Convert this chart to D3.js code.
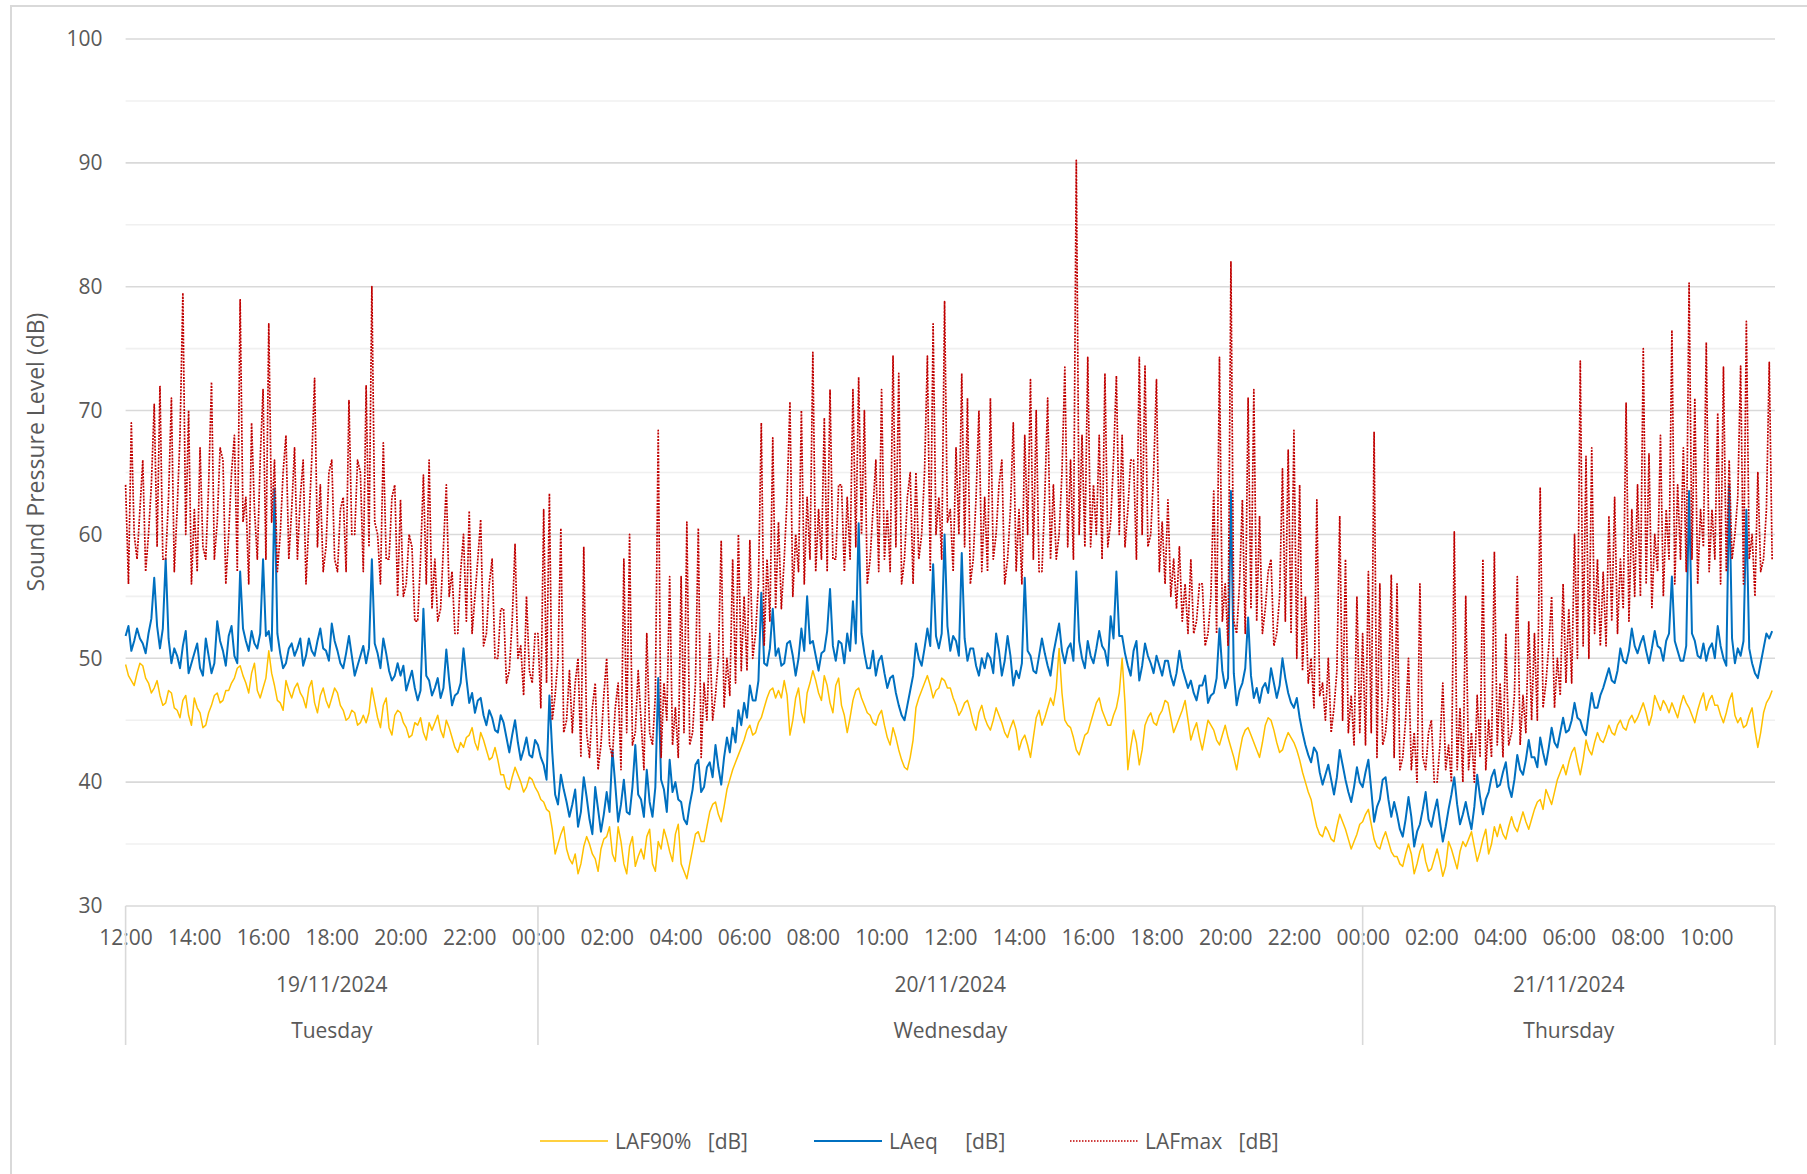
<!DOCTYPE html>
<html lang="en">
<head>
<meta charset="UTF-8">
<title>Sound Pressure Level</title>
<script src="https://d3js.org/d3.v7.min.js"></script>
<style>
    body { margin: 0; background: #fff; }
    svg text { font-family: "Open Sans", sans-serif; fill: #595959; }
</style>
</head>
<body>
<svg class="chart"></svg>
<script>

// 5-minute readings starting Tuesday 19/11/2024 12:00, one row per hour
const startTime = new Date(2024, 10, 19, 12, 0)
const stepMinutes = 5

const laf90 = [
    49.5, 48.6, 48.2, 47.8, 48.8, 49.6, 49.4, 48.4, 48.0, 47.2, 47.6, 48.2,
    47.0, 46.2, 46.4, 47.4, 47.2, 46.0, 45.8, 45.2, 46.6, 47.0, 45.4, 44.6,
    46.8, 46.0, 45.6, 44.4, 44.6, 45.6, 46.2, 47.0, 47.2, 46.4, 46.6, 47.4,
    47.4, 48.0, 48.4, 49.2, 49.4, 48.6, 48.0, 47.2, 48.8, 49.6, 47.4, 46.8,
    47.6, 48.4, 50.6, 48.8, 47.8, 46.6, 46.4, 45.8, 48.2, 47.4, 46.8, 47.6,
    48.0, 47.2, 46.8, 46.0, 47.6, 48.2, 46.4, 45.6, 47.0, 47.6, 46.6, 46.0,
    46.8, 47.6, 47.2, 46.2, 45.8, 45.0, 45.2, 45.8, 45.6, 44.6, 44.8, 45.4,
    44.8, 45.6, 47.6, 46.4, 45.2, 44.4, 46.2, 46.8, 44.4, 43.8, 45.4, 45.8,
    45.6, 44.8, 44.4, 43.6, 43.8, 44.8, 44.6, 45.2, 44.0, 43.4, 44.8, 44.2,
    44.8, 45.4, 44.2, 43.6, 45.0, 44.4, 43.6, 42.8, 42.4, 43.2, 42.8, 43.6,
    43.8, 44.4, 43.2, 42.6, 44.0, 43.4, 42.6, 41.8, 42.0, 42.8, 41.8, 40.6,
    40.6, 39.6, 39.4, 40.4, 41.2, 40.6, 40.0, 39.2, 39.6, 40.4, 40.2, 39.6,
    39.2, 38.6, 38.4, 37.8, 37.6, 36.2, 34.2, 35.0, 35.8, 36.4, 34.6, 33.8,
    33.4, 34.2, 32.6, 33.4, 34.8, 35.6, 35.0, 34.2, 33.8, 32.8, 34.6, 35.4,
    35.6, 36.4, 34.2, 33.6, 36.4, 35.2, 33.4, 32.6, 34.8, 35.6, 33.2, 34.0,
    34.6, 33.8, 35.6, 36.2, 33.4, 32.8, 35.2, 34.6, 36.2, 35.4, 34.4, 33.6,
    35.8, 36.6, 33.4, 32.8, 32.2, 33.4, 34.6, 35.8, 36.0, 35.2, 35.2, 36.4,
    37.6, 38.2, 38.4, 37.4, 36.8, 38.0, 39.4, 40.2, 41.0, 41.6, 42.2, 42.8,
    43.4, 44.2, 44.6, 43.8, 44.0, 44.8, 45.2, 46.0, 46.8, 47.4, 47.6, 46.8,
    47.4, 46.8, 48.2, 47.0, 43.8, 45.0, 46.8, 47.6, 45.6, 44.8, 47.2, 48.0,
    49.0, 48.2, 47.2, 46.6, 48.6, 47.8, 46.4, 45.6, 47.8, 48.4, 46.2, 45.4,
    44.0, 45.2, 46.6, 47.4, 47.6, 46.8, 46.2, 45.6, 45.4, 44.8, 44.6, 45.4,
    45.8, 44.6, 43.6, 43.0, 44.4, 43.6, 42.6, 41.8, 41.2, 41.0, 42.0, 43.4,
    46.0, 46.8, 47.4, 48.0, 48.6, 47.8, 46.8, 47.4, 47.6, 48.4, 48.2, 47.6,
    47.6, 46.8, 46.2, 45.4, 45.8, 46.4, 46.6, 45.8, 44.8, 44.2, 45.6, 46.2,
    45.2, 44.6, 44.2, 45.0, 46.0, 45.4, 44.8, 44.0, 43.6, 44.4, 45.0, 44.2,
    42.6, 43.4, 43.8, 43.0, 42.0, 43.6, 45.2, 45.8, 44.6, 45.2, 46.0, 46.8,
    46.2, 47.6, 50.8, 47.2, 45.0, 44.6, 44.4, 43.6, 42.6, 42.2, 43.0, 43.8,
    44.0, 44.8, 45.6, 46.4, 46.8, 45.8, 45.2, 44.6, 44.6, 45.4, 46.0, 47.2,
    50.0, 46.4, 41.0, 42.8, 44.2, 43.2, 41.4, 42.6, 44.6, 45.2, 45.6, 44.8,
    44.6, 45.4, 45.8, 46.6, 46.4, 45.2, 44.0, 44.6, 45.2, 45.8, 46.6, 45.0,
    43.4, 44.2, 44.8, 43.6, 42.6, 43.8, 45.0, 44.6, 44.2, 43.4, 43.0, 43.8,
    44.6, 43.6, 42.8, 42.0, 41.0, 42.4, 43.6, 44.2, 44.4, 43.8, 43.2, 42.6,
    42.0, 43.2, 44.6, 45.2, 45.0, 44.2, 43.2, 42.4, 42.6, 43.4, 44.0, 43.6,
    43.2, 42.6, 41.8, 40.8, 40.0, 39.2, 38.6, 37.4, 36.4, 35.8, 35.6, 36.4,
    36.0, 35.4, 35.2, 36.4, 37.4, 36.8, 36.2, 35.4, 34.6, 35.2, 35.8, 36.6,
    36.8, 37.4, 37.8, 36.6, 35.4, 34.8, 34.6, 35.4, 36.0, 35.2, 34.4, 34.0,
    34.0, 33.4, 33.2, 34.2, 35.0, 34.2, 32.6, 33.4, 34.4, 35.0, 33.6, 32.8,
    33.0, 33.8, 34.6, 33.6, 32.4, 33.2, 35.2, 34.6, 33.8, 33.0, 34.4, 35.2,
    34.8, 35.4, 36.0, 34.8, 33.6, 34.4, 35.4, 36.2, 34.2, 35.0, 36.4, 35.6,
    36.6, 35.8, 35.4, 36.4, 37.2, 36.4, 36.0, 36.8, 37.6, 36.8, 36.2, 37.0,
    37.8, 38.4, 38.6, 37.8, 39.4, 38.8, 38.2, 39.2, 40.2, 40.8, 41.4, 40.6,
    41.6, 42.4, 42.8, 41.6, 40.6, 41.8, 43.4, 42.6, 42.2, 43.2, 44.0, 43.4,
    43.2, 43.8, 44.6, 44.0, 43.8, 44.6, 45.0, 44.4, 44.2, 45.0, 45.4, 44.8,
    45.2, 45.8, 46.4, 45.6, 44.6, 45.4, 47.0, 46.4, 45.8, 46.6, 46.2, 45.6,
    46.4, 45.8, 45.2, 46.2, 47.0, 46.4, 46.0, 45.4, 44.8, 45.8, 46.6, 47.2,
    45.8, 46.6, 47.0, 46.2, 46.2, 45.4, 44.8, 45.6, 46.6, 47.2, 45.4, 44.8,
    45.2, 44.4, 44.6, 45.4, 46.0, 44.2, 42.8, 44.0, 45.6, 46.4, 46.8, 47.4
]

const laeq = [
    51.8, 52.6, 50.6, 51.4, 52.4, 51.6, 51.2, 50.4, 52.0, 53.2, 56.5, 52.6,
    50.8, 52.4, 58.0, 51.6, 49.6, 50.8, 50.2, 49.2, 51.0, 52.2, 48.8, 49.6,
    50.4, 51.2, 49.2, 48.6, 51.6, 50.2, 48.8, 49.6, 53.0, 51.4, 50.6, 49.4,
    51.8, 52.6, 50.2, 49.6, 57.0, 52.4, 51.4, 50.6, 52.2, 51.2, 50.8, 52.0,
    58.0, 51.8, 52.2, 50.6, 63.7, 52.0, 50.4, 49.2, 49.6, 50.8, 51.2, 50.2,
    50.8, 51.6, 49.4, 50.2, 51.6, 50.6, 50.2, 51.4, 52.4, 50.8, 50.6, 49.8,
    52.8, 51.4, 50.6, 49.6, 49.2, 50.4, 51.8, 50.2, 48.6, 49.4, 50.2, 51.0,
    49.6, 50.8, 58.0, 51.2, 50.4, 49.2, 51.6, 50.4, 49.0, 48.2, 48.6, 49.6,
    48.6, 49.4, 47.4, 48.2, 49.0, 47.6, 46.6, 47.4, 54.0, 48.6, 48.2, 47.0,
    47.6, 48.4, 46.8, 47.6, 50.7, 48.2, 46.2, 47.0, 47.2, 48.0, 50.8, 48.4,
    46.4, 47.2, 45.6, 46.6, 46.8, 45.4, 44.6, 45.8, 45.2, 44.2, 44.0, 45.4,
    44.8, 43.6, 42.4, 43.8, 45.0, 43.2, 41.8, 42.6, 43.6, 42.2, 42.0, 43.4,
    43.0, 42.0, 41.4, 40.2, 47.0, 42.4, 39.0, 38.2, 40.6, 39.4, 38.4, 37.2,
    38.2, 39.4, 36.4, 37.6, 40.4, 38.8, 37.0, 35.8, 39.6, 37.8, 36.0, 37.4,
    39.2, 37.6, 42.6, 39.8, 36.8, 38.2, 40.2, 37.6, 37.4, 39.6, 43.0, 39.0,
    38.6, 37.2, 41.0, 38.4, 37.2, 39.6, 48.4, 40.2, 39.4, 37.6, 41.8, 39.2,
    40.0, 38.6, 38.4, 37.0, 36.6, 38.2, 39.4, 41.4, 41.8, 39.2, 39.6, 41.2,
    41.6, 40.4, 43.0, 41.2, 39.8, 42.0, 43.6, 42.4, 44.4, 43.2, 45.8, 44.6,
    46.4, 45.2, 47.8, 46.6, 46.6, 48.2, 55.3, 49.6, 49.4, 50.8, 54.0, 50.2,
    50.8, 49.4, 49.6, 51.2, 51.4, 50.2, 48.6, 50.0, 52.4, 50.6, 55.0, 51.2,
    51.4, 50.2, 49.0, 50.4, 50.6, 52.2, 55.6, 51.0, 49.8, 51.4, 51.2, 49.6,
    52.0, 50.6, 54.6, 51.2, 60.9, 52.0, 50.4, 49.2, 49.2, 50.6, 48.6, 49.8,
    50.2, 48.8, 47.6, 48.4, 48.6, 47.2, 46.2, 45.4, 45.0, 46.2, 47.4, 48.6,
    51.2, 50.0, 49.4, 50.8, 52.4, 51.0, 57.6, 51.8, 50.8, 52.0, 60.0, 52.6,
    50.6, 51.8, 51.4, 50.2, 58.5, 51.6, 49.8, 50.8, 50.8, 49.4, 48.6, 50.0,
    49.2, 50.4, 50.0, 48.8, 52.0, 50.6, 48.6, 49.8, 51.8, 50.2, 47.8, 49.0,
    48.4, 49.6, 56.5, 50.6, 50.2, 49.0, 48.8, 50.2, 51.6, 50.4, 49.4, 48.6,
    50.4, 51.6, 52.8, 50.6, 49.6, 50.8, 51.2, 49.8, 57.0, 51.4, 50.0, 49.2,
    51.4, 50.2, 49.6, 50.8, 52.2, 51.0, 50.6, 49.4, 53.4, 51.6, 57.0, 51.8,
    51.8, 50.4, 49.4, 48.6, 50.6, 51.4, 48.2, 49.4, 51.2, 50.2, 49.6, 48.8,
    50.2, 49.4, 48.6, 49.8, 49.8, 48.6, 47.8, 48.8, 50.6, 49.2, 48.4, 47.6,
    48.2, 47.2, 46.6, 47.8, 47.8, 48.6, 46.4, 47.0, 47.2, 48.4, 52.4, 49.0,
    47.6, 48.4, 63.5, 48.8, 46.2, 47.4, 48.0, 49.2, 53.3, 48.6, 46.8, 47.6,
    46.4, 47.6, 48.0, 47.2, 49.2, 48.0, 46.8, 47.8, 50.0, 48.4, 47.2, 46.4,
    46.0, 46.8, 45.2, 44.0, 43.0, 42.2, 41.6, 42.8, 42.4, 40.8, 39.8, 40.6,
    41.4, 40.2, 39.0, 40.4, 42.6, 41.4, 40.2, 39.2, 38.4, 39.6, 41.2, 40.0,
    39.6, 40.8, 41.8, 39.4, 36.8, 38.0, 38.6, 40.2, 40.4, 38.6, 37.2, 38.4,
    37.4, 36.2, 35.6, 37.0, 38.8, 37.2, 34.8, 36.0, 36.6, 37.8, 39.2, 37.0,
    36.4, 37.6, 38.6, 36.8, 35.2, 36.4, 37.8, 39.0, 40.4, 38.2, 36.6, 37.4,
    38.4, 37.2, 36.2, 38.0, 40.6, 38.8, 37.4, 38.6, 39.2, 40.4, 41.0, 39.6,
    39.8, 40.8, 41.6, 39.6, 38.8, 40.2, 42.2, 41.0, 40.6, 41.8, 43.4, 42.0,
    42.0, 41.2, 43.6, 42.4, 41.4, 42.8, 44.4, 43.2, 42.8, 44.0, 45.2, 44.0,
    44.2, 45.0, 46.4, 45.2, 45.0, 44.2, 43.8, 45.6, 47.2, 46.0, 46.0, 47.0,
    47.6, 48.4, 49.2, 48.2, 48.0, 49.0, 50.8, 49.8, 49.6, 50.6, 52.4, 51.0,
    50.4, 51.2, 51.8, 50.6, 49.6, 50.8, 52.2, 51.0, 50.8, 49.8, 51.4, 52.0,
    56.6, 51.4, 50.6, 49.8, 49.8, 51.0, 63.5, 52.0, 51.4, 50.2, 50.0, 51.2,
    49.8, 50.8, 51.2, 50.0, 52.6, 51.0, 50.0, 49.4, 64.0, 51.6, 49.6, 50.8,
    50.2, 51.4, 62.0, 50.8, 49.6, 48.8, 48.4, 49.6, 50.8, 52.0, 51.6, 52.2
]

const lafmax = [
    64, 56, 69, 60, 58, 62, 66, 57, 60, 64, 70.5, 59,
    72, 58, 58, 63, 71, 57, 62, 68, 79.5, 60, 70, 56,
    62, 57, 67, 59, 58, 64, 72.3, 58, 61, 67, 66, 56,
    60, 65, 68, 57, 79, 61, 63, 56, 69, 62, 58, 66,
    71.7, 58, 77, 61, 66, 57, 60, 65, 68, 58, 62, 67,
    58, 63, 66, 56, 61, 66, 72.6, 59, 64, 57, 59, 65,
    66, 58, 57, 62, 63, 57, 70.8, 60, 60, 66, 65, 57,
    72, 59, 80, 61, 60, 56, 67.4, 58, 58, 63, 64, 55,
    62.8, 55, 56, 60, 59, 53, 53, 58, 64.8, 56, 66, 54,
    58, 53, 54, 59, 64, 55, 57, 52, 52, 57, 60, 53,
    61.9, 52, 55, 58, 61.2, 51, 52, 56, 58, 50, 50, 54,
    54, 48, 49, 53, 59.2, 50, 51, 47, 55, 49, 48, 52,
    52, 46, 62, 48, 63.3, 45, 47, 50, 60.5, 44, 45, 49,
    44, 48, 50, 42, 59, 44, 42, 46, 48, 41, 43, 47,
    50, 43, 42, 46, 48, 41, 58, 44, 60, 43, 44, 49,
    45, 41, 52, 44, 43, 47, 68.4, 42, 48, 45, 56.6, 43,
    46, 42, 56.6, 44, 61, 43, 44, 48, 60.5, 42, 48, 45,
    52, 45, 47, 50, 59.5, 46, 50, 47, 58, 48, 60, 49,
    55, 49, 59.5, 50, 52, 56, 69, 51, 58, 53, 67.8, 54,
    61, 54, 58, 63, 70.7, 55, 60, 57, 70, 56, 63, 58,
    74.7, 57, 62, 58, 69.4, 57, 71.7, 58, 58, 64, 64, 57,
    63, 58, 71.7, 59, 72.7, 60, 70, 56, 58, 62, 66, 57,
    71.7, 58, 62, 57, 74.4, 59, 73, 56, 58, 63, 65, 56,
    65, 58, 60, 65, 74.4, 57, 77, 60, 63, 58, 78.8, 61,
    62, 57, 67, 60, 73, 59, 71, 56, 58, 63, 70, 57,
    63, 57, 71, 58, 60, 64, 66, 56, 58, 62, 69, 57,
    62, 56, 68, 60, 72.5, 58, 70, 57, 57, 63, 71, 58,
    64, 58, 60, 65, 73.5, 59, 66, 58, 90.2, 60, 68, 59,
    74.3, 59, 64, 60, 68, 58, 73, 59, 61, 66, 72.8, 60,
    68, 59, 62, 66, 66, 58, 74.3, 60, 73.6, 59, 60, 65,
    72.5, 57, 61, 56, 62.8, 55, 58, 54, 59, 53, 56, 52,
    58, 52, 53, 56, 56, 51, 52, 55, 63.5, 52, 74.3, 53,
    56, 51, 82, 53, 52, 56, 62.8, 52, 71, 54, 71.7, 53,
    61.5, 52, 54, 57, 58, 51, 52, 55, 65.3, 53, 66.8, 52,
    68.4, 50, 64, 49, 55, 48, 50, 46, 62.8, 47, 48, 45,
    50, 44, 46, 49, 61.5, 45, 58, 44, 47, 43, 55, 44,
    52, 43, 57, 44, 68.3, 42, 56, 43, 44, 47, 56.7, 42,
    56, 41, 42, 45, 50, 41, 44, 40, 56, 42, 41, 44,
    45, 40, 40, 43, 48, 41, 43, 40, 60.2, 41, 46, 40,
    55, 41, 44, 40, 47, 42, 58, 41, 45, 42, 58.6, 43,
    48, 42, 52, 43, 44, 47, 56.6, 43, 47, 44, 53, 45,
    52, 45, 63.8, 46, 48, 51, 55, 46, 50, 47, 56, 48,
    54, 48, 60, 50, 74, 51, 66.3, 50, 67, 52, 58, 51,
    57, 51, 61.5, 53, 63, 52, 58, 54, 70.6, 53, 62, 55,
    64, 55, 75, 56, 66.5, 54, 60, 57, 68, 55, 62, 58,
    76.5, 56, 64, 58, 67, 57, 80.3, 58, 71, 56, 62, 59,
    75.5, 57, 62, 58, 69.8, 56, 73.5, 57, 66, 58, 60, 63,
    73.6, 56, 77.2, 58, 60, 55, 65, 57, 58, 62, 73.9, 58
]

const yTicks = [30, 40, 50, 60, 70, 80, 90, 100]
const dayStarts = [new Date(2024, 10, 19, 12), new Date(2024, 10, 20), new Date(2024, 10, 21), new Date(2024, 10, 21, 12)]
const dateLabels = ['19/11/2024', '20/11/2024', '21/11/2024']
const dayLabels = ['Tuesday', 'Wednesday', 'Thursday']
const seriesNames = ['LAF90%   [dB]', 'LAeq     [dB]', 'LAFmax   [dB]']
const seriesColors = ['#FFC000', '#0070C0', '#C00000']

const svgW = 1807
const svgH = 1174
const svg = d3.select('.chart').attr('width', svgW).attr('height', svgH)

// chart frame
svg.append('rect')
    .attr('x', 11).attr('y', 6).attr('width', 1830).attr('height', 1200)
    .attr('fill', '#fff').attr('stroke', '#d9d9d9').attr('stroke-width', 2)

const timeAt = i => d3.timeMinute.offset(startTime, i * stepMinutes)
const x = d3.scaleTime().domain([dayStarts[0], dayStarts[3]]).range([125.6, 1775])
const y = d3.scaleLinear().domain([30, 100]).range([906, 39])

// gridlines (major every 10, minor every 5)
svg.append('g').selectAll('line')
    .data(d3.range(30, 101, 5))
    .join('line')
    .attr('x1', x.range()[0]).attr('x2', x.range()[1])
    .attr('y1', d => y(d)).attr('y2', d => y(d))
    .attr('stroke', d => d % 10 === 0 ? '#d9d9d9' : '#f0f0f0')
    .attr('stroke-width', 1.6)

// y axis labels
const yAxis = svg.append('g')
    .attr('transform', `translate(${x.range()[0]},0)`)
    .call(d3.axisLeft(y).tickValues(yTicks).tickSize(0).tickPadding(23))
yAxis.select('.domain').remove()
yAxis.selectAll('text').style('font-size', '21px').style('font-family', '"Open Sans", sans-serif').attr('fill', '#595959')

svg.append('text')
    .attr('transform', 'translate(44,452) rotate(-90)')
    .attr('text-anchor', 'middle')
    .style('font-size', '23px')
    .text('Sound Pressure Level (dB)')

// hour labels
const hourTicks = d3.timeHour.every(2).range(dayStarts[0], dayStarts[3])
const xAxis = svg.append('g')
    .attr('transform', `translate(0,${y(30)})`)
    .call(d3.axisBottom(x).tickValues(hourTicks).tickFormat(d3.timeFormat('%H:%M')).tickSize(0).tickPadding(24))
xAxis.select('.domain').remove()
xAxis.selectAll('text').style('font-size', '21px').style('font-family', '"Open Sans", sans-serif').attr('fill', '#595959')

// day separators and labels
svg.append('g').selectAll('line')
    .data(dayStarts)
    .join('line')
    .attr('x1', d => x(d)).attr('x2', d => x(d))
    .attr('y1', y(30)).attr('y2', 1045)
    .attr('stroke', '#d9d9d9').attr('stroke-width', 1.6)

const dayMid = i => (x(dayStarts[i]) + x(dayStarts[i + 1])) / 2
svg.append('g').selectAll('text')
    .data(dateLabels)
    .join('text')
    .attr('x', (d, i) => dayMid(i)).attr('y', 991.5)
    .attr('text-anchor', 'middle').style('font-size', '21px')
    .text(d => d)
svg.append('g').selectAll('text')
    .data(dayLabels)
    .join('text')
    .attr('x', (d, i) => dayMid(i)).attr('y', 1037.5)
    .attr('text-anchor', 'middle').style('font-size', '21px')
    .text(d => d)

// series
const line = d3.line()
    .x((d, i) => x(timeAt(i)))
    .y(d => y(d))

const series = [laf90, laeq, lafmax]
const widths = [1.5, 2, 1.7]
const dashes = [null, null, '2 1.2']
const plot = svg.append('g')
series.forEach((s, k) => {
    plot.append('path')
        .datum(s)
        .attr('d', line)
        .attr('fill', 'none')
        .attr('stroke', seriesColors[k])
        .attr('stroke-width', widths[k])
        .attr('stroke-dasharray', dashes[k])
        .attr('stroke-linejoin', 'round')
})

// legend
const legendX = [540, 814, 1070]
const legend = svg.append('g').selectAll('g')
    .data(seriesNames)
    .join('g')
    .attr('transform', (d, i) => `translate(${legendX[i]},1141)`)
legend.append('line')
    .attr('x1', 0).attr('x2', 68).attr('y1', 0).attr('y2', 0)
    .attr('stroke', (d, i) => seriesColors[i])
    .attr('stroke-width', (d, i) => i === 2 ? 1.5 : widths[i])
    .attr('stroke-dasharray', (d, i) => i === 2 ? '1.5 1.5' : dashes[i])
legend.append('text')
    .attr('x', 75).attr('y', 7.5)
    .style('font-size', '21px').style('white-space', 'pre')
    .text(d => d)

</script>
</body>
</html>
